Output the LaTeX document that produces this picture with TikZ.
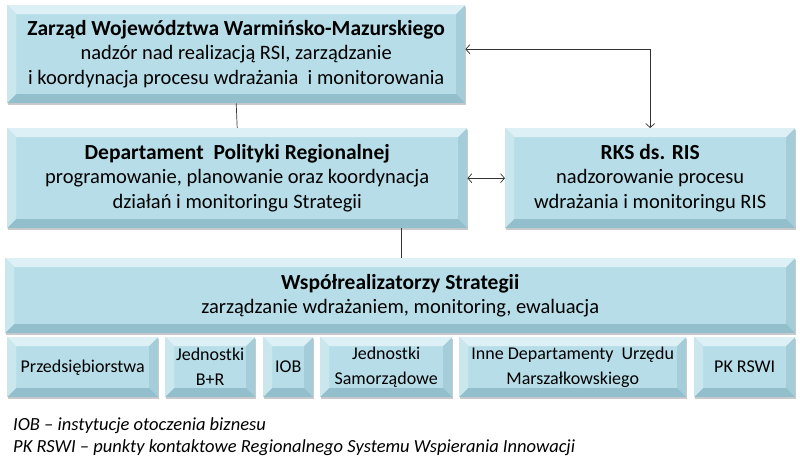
\documentclass[tikz,border=0pt]{standalone}
\usepackage{fontspec}
\setmainfont{Carlito}
\usetikzlibrary{calc,shadows,arrows.meta}

\definecolor{boxface}{HTML}{B7DEE8}
\definecolor{bevtop}{HTML}{DDF0F5}
\definecolor{bevleft}{HTML}{CAE7EE}
\definecolor{bevright}{HTML}{A4CDD9}
\definecolor{bevbottom}{HTML}{93BECB}

\newcommand{\bv}{9pt}
\newcommand{\ttl}[1]{{\fontsize{21.5}{24.5}\selectfont\textbf{#1}}}
\tikzset{
  bevelbox/.style={fill=boxface, inner sep=0pt, align=center, anchor=north west,
    drop shadow={shadow xshift=1pt, shadow yshift=-2pt, opacity=0.35, fill=black!60},
    path picture={
      \coordinate (nw) at (path picture bounding box.north west);
      \coordinate (ne) at (path picture bounding box.north east);
      \coordinate (sw) at (path picture bounding box.south west);
      \coordinate (se) at (path picture bounding box.south east);
      \fill[bevtop] (nw) -- (ne) -- ($(ne)+(-\bv,-\bv)$) -- ($(nw)+(\bv,-\bv)$) -- cycle;
      \fill[bevleft] (nw) -- ($(nw)+(\bv,-\bv)$) -- ($(sw)+(\bv,\bv)$) -- (sw) -- cycle;
      \fill[bevright] (ne) -- ($(ne)+(-\bv,-\bv)$) -- ($(se)+(-\bv,\bv)$) -- (se) -- cycle;
      \fill[bevbottom] (sw) -- ($(sw)+(\bv,\bv)$) -- ($(se)+(-\bv,\bv)$) -- (se) -- cycle;
    }},
  bigtext/.style={font=\fontsize{20.5}{24.5}\selectfont},
  smalltext/.style={font=\fontsize{18}{25}\selectfont},
  link/.style={draw=black!80, line width=0.7pt},
}

\begin{document}
\begin{tikzpicture}[x=1pt,y=-1pt,>={Straight Barb[length=4pt,width=9pt]}]
\useasboundingbox (0,0) rectangle (800,470);
% upper level
\node[bevelbox,bigtext,minimum width=458pt,minimum height=98pt] (zarzad) at (7,5)
  {\ttl{Zarząd Województwa Warmińsko-Mazurskiego}\\
   nadzór nad realizacją RSI, zarządzanie\\
   i koordynacja procesu wdrażania \ i monitorowania};
\node[bevelbox,bigtext,minimum width=460pt,minimum height=100pt] (dept) at (7,128)
  {\ttl{Departament \ Polityki Regionalnej}\\
   programowanie, planowanie oraz koordynacja\\
   działań i monitoringu Strategii};
\node[bevelbox,bigtext,minimum width=290pt,minimum height=100pt] (rks) at (505,128)
  {\ttl{RKS ds. RIS}\\
   nadzorowanie procesu\\
   wdrażania i monitoringu RIS};
\node[bevelbox,bigtext,minimum width=790pt,minimum height=75pt] (wspol) at (5,258)
  {\ttl{Współrealizatorzy Strategii}\\
   zarządzanie wdrażaniem, monitoring, ewaluacja};
% lower level
\node[bevelbox,smalltext,minimum width=151pt,minimum height=60pt] (przed) at (7,337) {Przedsiębiorstwa};
\node[bevelbox,smalltext,minimum width=90pt,minimum height=60pt] (br) at (165,337) {Jednostki\\ B+R};
\node[bevelbox,smalltext,minimum width=50pt,minimum height=60pt] (iob) at (263,337) {IOB};
\node[bevelbox,smalltext,minimum width=132pt,minimum height=60pt] (samorz) at (320,337) {Jednostki\\ Samorządowe};
\node[bevelbox,smalltext,minimum width=227pt,minimum height=60pt] (urzad) at (459,337) {Inne Departamenty \ Urzędu\\ Marszałkowskiego};
\node[bevelbox,smalltext,minimum width=101pt,minimum height=60pt] (pk) at (694,337) {PK RSWI};
% legend
\node[anchor=north west, align=left, inner sep=0pt, font=\fontsize{18.5}{22}\selectfont\itshape] (legend) at (13,417)
  {IOB -- instytucje otoczenia biznesu\\
   PK RSWI -- punkty kontaktowe Regionalnego Systemu Wspierania Innowacji};
% connectors
\draw[link] (zarzad.south) -- (dept.north);
\draw[link] ([xshift=164pt]dept.south) -- ([xshift=164pt]dept.south |- wspol.north);
\draw[link,<->] ([yshift=5pt]zarzad.east) -| (rks.north);
\draw[link,<->] (dept.east) -- (rks.west);
\end{tikzpicture}
\end{document}
